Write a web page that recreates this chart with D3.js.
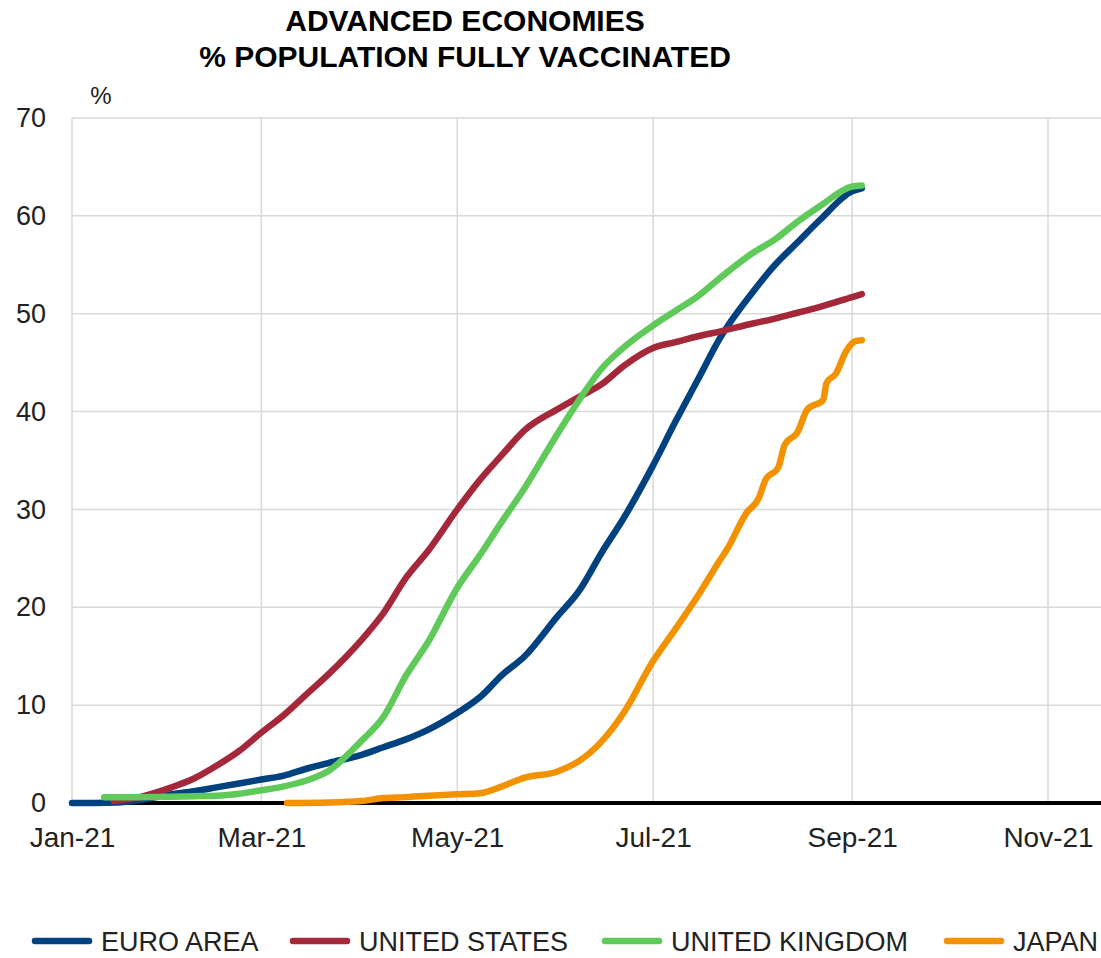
<!DOCTYPE html>
<html>
<head>
<meta charset="utf-8">
<script src="https://cdn.jsdelivr.net/npm/d3@7"></script>
<style>
  body { margin: 0; background: #fff; }
  svg { display: block; font-family: "Liberation Sans", Arial, sans-serif; }
</style>
</head>
<body>
<svg id="graphique" width="1101" height="958"></svg>
<script>
// dates (valeurs en % de la population)
const euroDates = ["2021-01-01","2021-01-08","2021-01-15","2021-01-22","2021-02-01","2021-02-08","2021-02-15","2021-02-22",
  "2021-03-01","2021-03-08","2021-03-15","2021-03-22","2021-04-01","2021-04-08","2021-04-15","2021-04-22",
  "2021-05-01","2021-05-08","2021-05-15","2021-05-22","2021-06-01","2021-06-08","2021-06-15","2021-06-22",
  "2021-07-01","2021-07-08","2021-07-15","2021-07-22","2021-08-01","2021-08-08","2021-08-15","2021-08-22",
  "2021-09-01","2021-09-04"];
const euroValues = [0,0,0.05,0.3,0.9,1.2,1.6,2.0,
  2.4,2.8,3.5,4.1,4.9,5.7,6.5,7.5,
  9.2,10.8,13.1,15.0,19.0,21.7,25.6,29.2,
  34.5,39.0,43.3,47.6,52.2,55.0,57.3,59.6,
  62.5,62.8];

const usDates = ["2021-01-14","2021-01-22","2021-02-01","2021-02-08","2021-02-15","2021-02-22",
  "2021-03-01","2021-03-08","2021-03-15","2021-03-22","2021-04-01","2021-04-08","2021-04-15","2021-04-22",
  "2021-05-01","2021-05-08","2021-05-15","2021-05-22","2021-06-01","2021-06-08","2021-06-15","2021-06-22",
  "2021-07-01","2021-07-08","2021-07-15","2021-07-22","2021-08-01","2021-08-08","2021-08-15","2021-08-22",
  "2021-09-01","2021-09-04"];
const usValues = [0.2,0.6,1.6,2.5,3.8,5.3,
  7.2,9.0,11.1,13.2,16.6,19.4,23.0,25.8,
  30.0,33.0,35.6,38.1,40.2,41.5,42.8,44.7,
  46.5,47.1,47.7,48.2,49.0,49.5,50.1,50.7,
  51.7,52.0];

const ukDates = ["2021-01-11","2021-01-22","2021-02-01","2021-02-08","2021-02-15","2021-02-22",
  "2021-03-01","2021-03-08","2021-03-15","2021-03-22","2021-04-01","2021-04-08","2021-04-15","2021-04-22",
  "2021-05-01","2021-05-08","2021-05-15","2021-05-22","2021-06-01","2021-06-08","2021-06-15","2021-06-22",
  "2021-07-01","2021-07-08","2021-07-15","2021-07-22","2021-08-01","2021-08-08","2021-08-15","2021-08-22",
  "2021-09-01","2021-09-04"];
const ukValues = [0.6,0.6,0.65,0.7,0.75,0.95,
  1.3,1.7,2.3,3.3,6.3,8.8,13.0,16.5,
  22.0,25.3,28.8,32.2,37.6,41.2,44.4,46.6,
  48.8,50.3,51.8,53.7,56.2,57.6,59.4,61.0,
  63.0,63.1];

const japanDates = ["2021-03-09","2021-03-22","2021-04-01","2021-04-08","2021-04-15","2021-04-22",
  "2021-05-01","2021-05-08","2021-05-15","2021-05-22","2021-06-01","2021-06-08","2021-06-15","2021-06-22",
  "2021-07-01","2021-07-08","2021-07-15","2021-07-22","2021-07-24","2021-07-30","2021-08-03","2021-08-05",
  "2021-08-09","2021-08-11","2021-08-15","2021-08-18","2021-08-23","2021-08-24","2021-08-27","2021-08-30",
  "2021-09-02","2021-09-04"];
const japanValues = [0,0.05,0.2,0.5,0.6,0.75,
  0.9,1.0,1.7,2.6,3.2,4.3,6.3,9.3,
  14.5,17.8,21.2,24.9,25.9,29.6,31.2,33.0,
  34.3,36.6,37.9,40.2,41.2,42.9,43.9,46.1,
  47.2,47.3];

const seriesNames = ["EURO AREA", "UNITED STATES", "UNITED KINGDOM", "JAPAN"];
const seriesColors = ["#00417f", "#a5283a", "#5fc95a", "#f39200"];
const yTicks = [0, 10, 20, 30, 40, 50, 60, 70];

const parseDate = d3.timeParse("%Y-%m-%d");
const series = [
  [euroDates, euroValues], [usDates, usValues], [ukDates, ukValues], [japanDates, japanValues]
].map(([dates, values], i) => ({
  name: seriesNames[i],
  color: seriesColors[i],
  points: dates.map((d, j) => ({ x: parseDate(d), y: values[j] }))
}));

const svg = d3.select('#graphique');
const W = +svg.attr('width');
const plotLeft = 72, plotTop = 118, plotBottom = 803;

const x = d3.scaleTime()
  .domain([new Date(2021, 0, 1), new Date(2021, 10, 1)])
  .range([plotLeft, 1048]);
const y = d3.scaleLinear()
  .domain([0, 70])
  .range([plotBottom, plotTop]);

// titre
svg.append('text').attr('x', 465).attr('y', 31).attr('text-anchor', 'middle')
  .attr('font-size', 30).attr('font-weight', 'bold').text('ADVANCED ECONOMIES');
svg.append('text').attr('x', 465).attr('y', 67).attr('text-anchor', 'middle')
  .attr('font-size', 30).attr('font-weight', 'bold').text('% POPULATION FULLY VACCINATED');
svg.append('text').attr('x', 101).attr('y', 104).attr('text-anchor', 'middle')
  .attr('font-size', 24).attr('fill', '#222').text('%');

// grille horizontale
svg.append('g').selectAll('line')
  .data(yTicks.filter(t => t > 0))
  .enter().append('line')
  .attr('x1', plotLeft).attr('x2', W)
  .attr('y1', d => y(d)).attr('y2', d => y(d))
  .attr('stroke', '#d9d9d9').attr('stroke-width', 1.5);

// grille verticale
const xTicks = x.ticks(d3.timeMonth.every(2));
svg.append('g').selectAll('line')
  .data(xTicks)
  .enter().append('line')
  .attr('x1', d => x(d)).attr('x2', d => x(d))
  .attr('y1', plotTop).attr('y2', plotBottom)
  .attr('stroke', '#d9d9d9').attr('stroke-width', 1.5);

// axe y
const yAxis = svg.append('g')
  .attr('transform', `translate(${plotLeft},0)`)
  .call(d3.axisLeft(y).tickValues(yTicks).tickSize(0).tickPadding(26));
yAxis.select('.domain').remove();
yAxis.selectAll('text').attr('font-size', 27).attr('fill', '#222')
  .attr('font-family', '"Liberation Sans", Arial, sans-serif');

// axe x
const xAxis = svg.append('g')
  .attr('transform', `translate(0,${plotBottom})`)
  .call(d3.axisBottom(x).tickValues(xTicks).tickSize(0).tickPadding(24)
    .tickFormat(d3.timeFormat('%b-%y')));
xAxis.select('.domain').remove();
xAxis.selectAll('text').attr('font-size', 28).attr('fill', '#222')
  .attr('font-family', '"Liberation Sans", Arial, sans-serif');

// ligne zéro
svg.append('line')
  .attr('x1', plotLeft).attr('x2', W)
  .attr('y1', y(0)).attr('y2', y(0))
  .attr('stroke', '#000').attr('stroke-width', 4);

// courbes
const line = d3.line()
  .x(d => x(d.x))
  .y(d => y(d.y))
  .curve(d3.curveMonotoneX);

svg.append('g').selectAll('path')
  .data(series)
  .enter().append('path')
  .attr('d', d => line(d.points))
  .attr('fill', 'none')
  .attr('stroke', d => d.color)
  .attr('stroke-width', 6.5)
  .attr('stroke-linejoin', 'round')
  .attr('stroke-linecap', 'round');

// légende
const legendX = [35, 293, 605, 947];
const legend = svg.append('g').selectAll('g')
  .data(series)
  .enter().append('g')
  .attr('transform', (d, i) => `translate(${legendX[i]},941)`);
legend.append('line')
  .attr('x1', 0).attr('x2', 54)
  .attr('stroke', d => d.color).attr('stroke-width', 6.5).attr('stroke-linecap', 'round');
legend.append('text')
  .attr('x', 66).attr('y', 10)
  .attr('font-size', 27).attr('fill', '#222')
  .text(d => d.name);
</script>
</body>
</html>
